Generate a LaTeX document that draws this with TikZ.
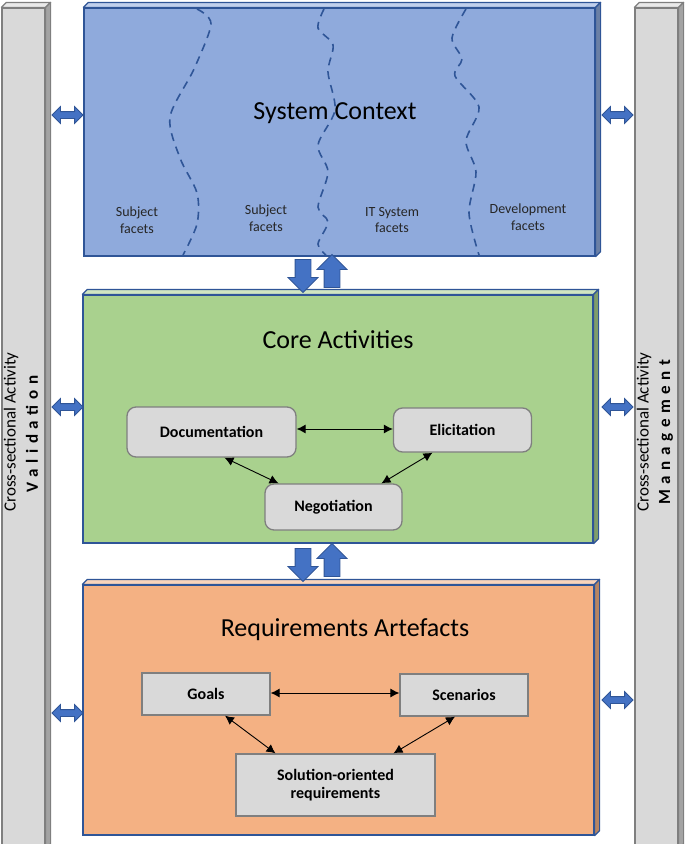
\documentclass[tikz,border=0pt]{standalone}
\usepackage{fontspec}
\setmainfont{Carlito}
\usepackage{tikz}
\usetikzlibrary{positioning, shapes.arrows, arrows.meta}

\definecolor{scblue}{HTML}{8FAADC}
\definecolor{cagreen}{HTML}{A9D18E}
\definecolor{raorange}{HTML}{F4B183}
\definecolor{edgeblue}{HTML}{2F5597}
\definecolor{arrowblue}{HTML}{4472C4}
\definecolor{barfill}{HTML}{D9D9D9}
\definecolor{bargray}{HTML}{7F7F7F}

% top and right faces of a slab node
\newcommand{\slabfaces}[3]{%
	\filldraw[fill=#2!55!white, draw=#3, line width=1.2pt, line join=round]
		(#1.north west) -- ++(5,-5) -- ([shift={(5,-5)}]#1.north east) -- (#1.north east) -- cycle;
	\filldraw[fill=#2!75!black, draw=#3, line width=1.2pt, line join=round]
		(#1.north east) -- ++(5,-5) -- ([shift={(5,-5)}]#1.south east) -- (#1.south east) -- cycle;
}

\begin{document}
\begin{tikzpicture}[
		x=1pt, y=-1pt,
		slab/.style={draw=edgeblue, line width=1.2pt, inner sep=0pt},
		bar/.style={fill=barfill, draw=bargray, line width=1.2pt, inner sep=0pt},
		title/.style={font=\fontsize{26}{30}\selectfont},
		facet/.style={font=\fontsize{14}{16.5}\selectfont, align=center, text=black!85},
		activity/.style={rounded corners=9pt, fill=barfill, draw=bargray, line width=1.3pt,
			font=\bfseries\fontsize{16}{18}\selectfont, align=center, inner sep=0pt},
		artefact/.style={fill=barfill, draw=bargray, line width=1.3pt,
			font=\bfseries\fontsize{16}{18}\selectfont, align=center, inner sep=0pt},
		crosstext/.style={rotate=90, font=\fontsize{17}{20}\selectfont},
		barname/.style={rotate=90, font=\bfseries\fontsize{17}{19}\selectfont\addfontfeatures{LetterSpace=33}},
		conn/.style={{Latex[length=9pt,width=9pt]}-{Latex[length=9pt,width=9pt]}, line width=0.9pt},
		sidearrow/.style={double arrow, double arrow head extend=5pt, inner xsep=0pt, inner ysep=3pt,
			minimum height=31pt, fill=arrowblue, draw=edgeblue, line width=0.8pt},
		flowarrow/.style={single arrow, single arrow head extend=7pt, inner xsep=7.5pt, inner ysep=0pt,
			minimum height=33pt, fill=arrowblue, draw=edgeblue, line width=0.8pt},
		facetline/.style={draw=edgeblue, line width=1.6pt, dash pattern=on 8pt off 6pt}]
		\useasboundingbox (0,0) rectangle (685,844);

		% cross-sectional bars
		\node[bar, minimum width=43pt, minimum height=840pt] (valbar) at (23.5,428) {};
		\node[bar, minimum width=43pt, minimum height=840pt] (mgmtbar) at (656.5,428) {};
		\slabfaces{valbar}{barfill}{bargray}
		\slabfaces{mgmtbar}{barfill}{bargray}
		\node[crosstext] (valcross) at (11,432) {Cross-sectional Activity};
		\node[barname] (valname) at (32,434) {Validation};
		\node[crosstext] (mgmtcross) at (644,432) {Cross-sectional Activity};
		\node[barname] (mgmtname) at (666,432) {Management};

		% three main slabs
		\node[slab, fill=scblue, minimum width=511pt, minimum height=248pt] (sc) at (339.5,132) {};
		\node[slab, fill=cagreen, minimum width=510pt, minimum height=248pt] (ca) at (338,419) {};
		\node[slab, fill=raorange, minimum width=511pt, minimum height=250pt] (ra) at (338.5,710) {};
		\slabfaces{sc}{scblue}{edgeblue}
		\slabfaces{ca}{cagreen}{edgeblue}
		\slabfaces{ra}{raorange}{edgeblue}

		% facet borders
		\draw[facetline] plot[smooth] coordinates {(197,9) (211,24) (194,69) (170,117) (180,158) (197,193) (197,224) (183,255)};
		\draw[facetline] plot[smooth] coordinates {(324,9) (318,28) (333,45) (328,72) (335,110) (318,145) (328,172) (318,207) (328,222) (318,244) (326,255)};
		\draw[facetline] plot[smooth] coordinates {(466,9) (452,38) (462,59) (455,76) (479,107) (466,141) (476,172) (469,213) (479,255)};

		\node[title] (sctitle) at (335,113) {System Context};
		\node[facet] (subj1) at (137,220) {Subject\\facets};
		\node[facet] (subj2) at (266,218) {Subject\\facets};
		\node[facet] (itsys) at (392,220) {IT System\\facets};
		\node[facet] (devel) at (528,217) {Development\\facets};

		% core activities
		\node[title] (catitle) at (338,340) {Core Activities};
		\node[activity, minimum width=169pt, minimum height=50pt] (doc) at (211.5,432) {Documentation};
		\node[activity, minimum width=138pt, minimum height=44pt] (eli) at (462.5,430) {Elicitation};
		\node[activity, minimum width=137pt, minimum height=46pt] (neg) at (333.5,507) {Negotiation};
		\draw[conn] (doc.east |- 0,429) -- (eli.west |- 0,429);
		\draw[conn] ([xshift=13pt]doc.south) -- ([xshift=-55pt]neg.north);
		\draw[conn] ([xshift=-30pt]eli.south) -- ([xshift=48pt]neg.north);

		% requirements artefacts
		\node[title] (ratitle) at (345,630) {Requirements Artefacts};
		\node[artefact, minimum width=128pt, minimum height=42pt] (goals) at (206,694) {Goals};
		\node[artefact, minimum width=128pt, minimum height=42pt] (scen) at (464,695) {Scenarios};
		\node[artefact, minimum width=199pt, minimum height=62pt] (sol) at (335.5,785) {Solution-oriented\\requirements};
		\draw[conn] (goals.east |- 0,693) -- (scen.west |- 0,693);
		\draw[conn] ([xshift=19pt]goals.south) -- ([xshift=-60pt]sol.north);
		\draw[conn] ([xshift=-9pt]scen.south) -- ([xshift=58pt]sol.north);

		% block arrows between slabs and bars
		\node[flowarrow, shape border rotate=270] (scdown) at (303,272) {};
		\node[flowarrow, shape border rotate=90] (caup) at (332,275) {};
		\node[flowarrow, shape border rotate=270] (cadown) at (303,561) {};
		\node[flowarrow, shape border rotate=90] (raup) at (332,564) {};
		\foreach \y/\n in {115/a, 407/b, 713/c}
			\node[sidearrow] (left\n) at (67.5,\y) {};
		\foreach \y/\n in {115/a, 407/b, 700/c}
			\node[sidearrow] (right\n) at (617.5,\y) {};
\end{tikzpicture}
\end{document}
